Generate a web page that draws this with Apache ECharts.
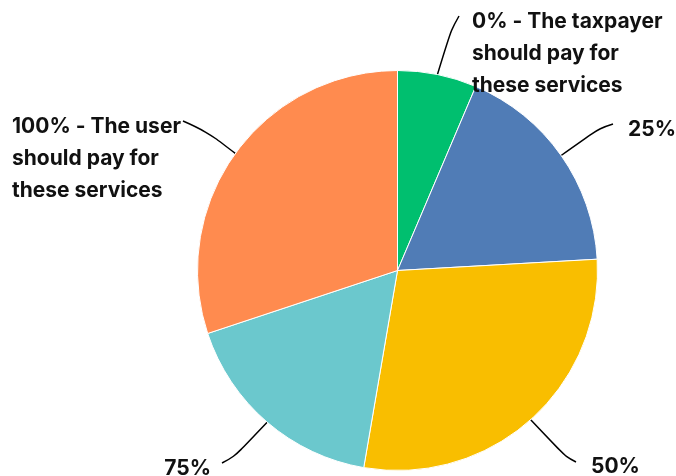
<!DOCTYPE html>
<html>
<head>
<meta charset="utf-8">
<script src="https://cdn.jsdelivr.net/npm/echarts@6/dist/echarts.min.js"></script>
<style>html,body{margin:0;padding:0;background:#fff}#c{width:676px;height:476px}</style>
</head>
<body>
<div id="c"></div>
<script>
const categories = ['0% - The taxpayer\nshould pay for\nthese services', '25%', '50%', '75%', '100% - The user\nshould pay for\nthese services'];
const values = [6.4, 17.7, 28.6, 17.2, 30.1];
const colors = ['#00BF6F', '#507CB6', '#F9BE00', '#6BC8CD', '#FF8B4F'];

const labelPos = [
  {x: 472, y: 54, align: 'left', bend: [451, 30], end: [459, 16]},
  {x: 628, y: 130, align: 'left', bend: [600, 128], end: [613, 124]},
  {x: 591, y: 467, align: 'left', bend: [566, 457], end: [576, 462]},
  {x: 211, y: 469, align: 'right', bend: [234, 457], end: [222, 463]},
  {x: 12, y: 159, align: 'left', bend: [206, 131], end: [183, 121]}
];

const chart = echarts.init(document.getElementById('c'), null, {renderer: 'canvas'});
chart.setOption({
  animation: false,
  series: [{
    type: 'pie',
    center: [397.5, 270.5],
    radius: 200,
    startAngle: 90,
    clockwise: true,
    data: categories.map((n, i) => ({name: n, value: values[i], itemStyle: {color: colors[i]}})),
    itemStyle: {borderColor: '#fff', borderWidth: 1},
    label: {
      show: true,
      formatter: '{b}',
      fontFamily: 'Inter',
      fontWeight: 'bold',
      fontSize: 21,
      lineHeight: 32,
      color: '#111',
      overflow: 'none',
      width: 300
    },
    labelLine: {show: true, smooth: 0.4, lineStyle: {color: '#000', width: 1.5}},
    labelLayout: function (p) {
      const q = labelPos[p.dataIndex];
      const r = {x: q.x, y: q.y, align: q.align, verticalAlign: 'middle'};
      if (q.end && p.labelLinePoints) {
        r.labelLinePoints = [p.labelLinePoints[0], q.bend, q.end];
      }
      return r;
    }
  }]
});
</script>
</body>
</html>
